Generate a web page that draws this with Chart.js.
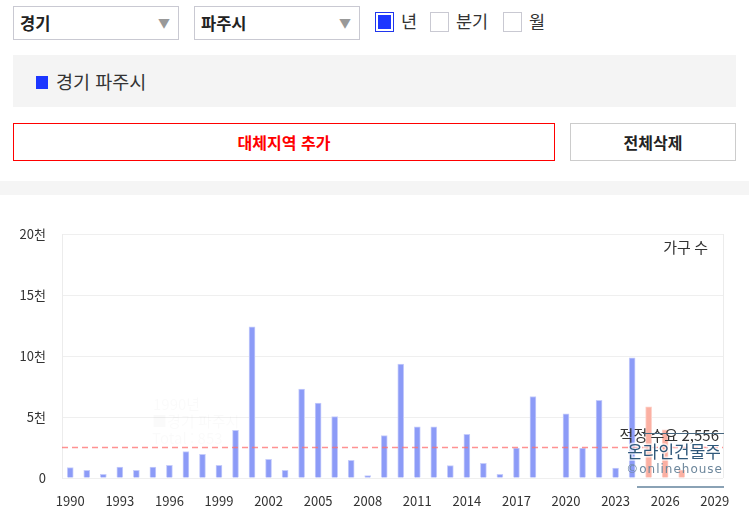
<!DOCTYPE html>
<html lang="ko">
<head>
<meta charset="utf-8">
<script src="https://cdn.jsdelivr.net/npm/chart.js@4/dist/chart.umd.min.js"></script>
<style>
    body { margin: 0; width: 749px; height: 519px; overflow: hidden; background: #fff;
        font-family: 'Noto Sans CJK KR', 'Noto Sans', sans-serif; color: #333; position: relative; }
    .sel { position: absolute; top: 6px; height: 34px; width: 166px; border: 1px solid #c9c9d2; box-sizing: border-box;
        font-size: 16.5px; font-weight: bold; color: #222; line-height: 32px; padding-left: 6px; }
    .sel .arr { position: absolute; right: 8px; top: 0; font-size: 12px; color: #999; font-weight: normal; }
    .chk { position: absolute; top: 12px; width: 19px; height: 20px; border: 1px solid #c9c9d2; box-sizing: border-box; background: #fff; }
    .chk.on { border: 1px solid #2036ee; }
    .chk.on::after { content: ''; position: absolute; left: 2px; top: 2px; right: 2px; bottom: 2px; background: #1c36ff; }
    .lbl { position: absolute; top: 9px; font-size: 17.5px; color: #333; line-height: 24px; }
    .panel { position: absolute; left: 13px; top: 55px; width: 723px; height: 52px; background: #f4f4f4; }
    .btn { position: absolute; top: 123px; height: 38px; box-sizing: border-box; text-align: center;
        line-height: 36px; font-size: 16px; font-weight: bold; background: #fff; }
    .band { position: absolute; left: 0; top: 181px; width: 749px; height: 14px; background: #f5f5f5; }
    #wrap { position: absolute; left: 0; top: 220px; width: 749px; height: 299px; }
</style>
</head>
<body>
<div class="sel" style="left:13px">경기<span class="arr">▼</span></div>
<div class="sel" style="left:194px">파주시<span class="arr">▼</span></div>
<div class="chk on" style="left:375px"></div><span class="lbl" style="left:401px">년</span>
<div class="chk" style="left:430px"></div><span class="lbl" style="left:456px">분기</span>
<div class="chk" style="left:503px"></div><span class="lbl" style="left:529px">월</span>

<div class="panel">
    <div style="position:absolute;left:23px;top:21px;width:12px;height:13px;background:#1c36ff"></div>
    <div style="position:absolute;left:43px;top:13px;font-size:18.5px;line-height:27px;color:#333">경기 파주시</div>
</div>

<div class="btn" style="left:13px;width:542px;border:1px solid #ff0000;color:#ff0000">대체지역 추가</div>
<div class="btn" style="left:570px;width:166px;border:1px solid #cccccc;color:#222">전체삭제</div>

<div class="band"></div>

<div id="wrap"><canvas id="myChart"></canvas></div>

<script>
// 연도 (1990 ~ 2029)
const years = [];
for (let y = 1990; y <= 2029; y++) years.push(String(y));

// 입주 물량 (실적) 1990 ~ 2024
const actualValues = [853, 630, 300, 900, 630, 900, 1040, 2160, 1940, 1040,
    3910, 12390, 1530, 630, 7280, 6150, 5030, 1450, 190, 3470,
    9330, 4190, 4190, 1010, 3580, 1200, 300, 2460, 6680, 0,
    5250, 2460, 6370, 820, 9850, null, null, null, null, null];

// 입주 예정 2025 ~ 2029
const plannedValues = [null, null, null, null, null, null, null, null, null, null,
    null, null, null, null, null, null, null, null, null, null,
    null, null, null, null, null, null, null, null, null, null,
    null, null, null, null, null, 5830, 3940, 650, null, null];

const demand = 2556; // 적정 수요
const yTicks = [0, 5000, 10000, 15000, 20000];
const yTickLabels = ['0', '5천', '10천', '15천', '20천'];

// 적정수요 점선 + 워터마크 + 가구 수 라벨
const extras = {
    id: 'extras',
    beforeDatasetsDraw(chart) {
        const {ctx, chartArea} = chart;
        ctx.save();
        // 오른쪽 테두리
        ctx.strokeStyle = '#ececec';
        ctx.lineWidth = 1;
        ctx.beginPath();
        ctx.moveTo(chartArea.right + 0.5, chartArea.top);
        ctx.lineTo(chartArea.right + 0.5, chartArea.bottom);
        ctx.stroke();
        // 흐린 툴팁 흔적
        ctx.fillStyle = 'rgba(0,0,0,0.02)';
        ctx.font = '15px "Noto Sans CJK KR"';
        ctx.textBaseline = 'middle';
        ctx.fillText('1990년', 153, 184);
        ctx.fillText('■경기 파주시', 152, 201);
        ctx.fillText('Total : 853', 152, 218);
        ctx.restore();
    },
    afterDatasetsDraw(chart) {
        const {ctx, chartArea, scales} = chart;
        const y = Math.round(scales.y.getPixelForValue(demand)) + 0.5;
        ctx.save();
        ctx.strokeStyle = 'rgba(255,110,110,0.75)';
        ctx.lineWidth = 1.5;
        ctx.setLineDash([6, 4]);
        ctx.beginPath();
        ctx.moveTo(chartArea.left, y);
        ctx.lineTo(chartArea.right, y);
        ctx.stroke();
        ctx.setLineDash([]);

        ctx.fillStyle = '#333';
        ctx.font = '15px "Noto Sans CJK KR"';
        ctx.textAlign = 'right';
        ctx.textBaseline = 'middle';
        ctx.fillText('가구 수', 708, 27);
        ctx.fillText('적정 수요 2,556', 719, 215);

        // 워터마크
        ctx.strokeStyle = '#48677f';
        ctx.lineWidth = 1;
        ctx.beginPath();
        ctx.moveTo(643, 213.5);
        ctx.lineTo(724, 213.5);
        ctx.stroke();
        ctx.strokeStyle = '#8aa2b5';
        ctx.lineWidth = 2;
        ctx.beginPath();
        ctx.moveTo(637, 267);
        ctx.lineTo(724, 267);
        ctx.stroke();
        ctx.font = '17px "Noto Sans CJK KR"';
        ctx.lineWidth = 3;
        ctx.strokeStyle = 'rgba(255,255,255,0.7)';
        ctx.strokeText('온라인건물주', 721, 232);
        ctx.fillStyle = '#2f587a';
        ctx.fillText('온라인건물주', 721, 232);
        ctx.font = '12px "DejaVu Sans"';
        ctx.letterSpacing = '1px';
        ctx.fillStyle = '#6d879c';
        ctx.fillText('©onlinehouse', 723, 250);
        ctx.restore();
    }
};

const config = {
    type: 'bar',
    data: {
        labels: years,
        datasets: [{
            label: '경기 파주시',
            data: actualValues,
            backgroundColor: '#8c9bf7',
            borderColor: '#c6cdfb',
            borderWidth: 1,
            barThickness: 6,
            grouped: false
        }, {
            label: '입주 예정',
            data: plannedValues,
            backgroundColor: '#fbb0a2',
            borderColor: '#fdd0c7',
            borderWidth: 1,
            barThickness: 6,
            grouped: false
        }]
    },
    options: {
        responsive: true,
        maintainAspectRatio: false,
        animation: false,
        layout: { padding: { top: 14, right: 26, left: 0, bottom: 0 } },
        plugins: { legend: { display: false }, tooltip: { enabled: false } },
        scales: {
            x: {
                grid: { display: false, drawTicks: false },
                border: { display: false },
                ticks: {
                    autoSkip: false, maxRotation: 0, padding: 15,
                    color: '#333', font: { family: 'Noto Sans CJK KR', size: 13 },
                    callback: (v, i) => i % 3 === 0 ? years[i] : ''
                },
                afterFit: s => { s.height = 41; }
            },
            y: {
                min: 0, max: 20000,
                afterBuildTicks: s => { s.ticks = yTicks.map(v => ({value: v})); },
                grid: { color: '#efefef', drawTicks: true, tickLength: 12, tickColor: 'rgba(0,0,0,0)' },
                border: { color: '#ececec' },
                ticks: {
                    padding: 4, color: '#333', font: { family: 'Noto Sans CJK KR', size: 13 },
                    callback: v => yTickLabels[yTicks.indexOf(v)]
                },
                afterFit: s => { s.width = 62; }
            }
        }
    },
    plugins: [extras]
};

new Chart(document.getElementById('myChart').getContext('2d'), config);
</script>
</body>
</html>
